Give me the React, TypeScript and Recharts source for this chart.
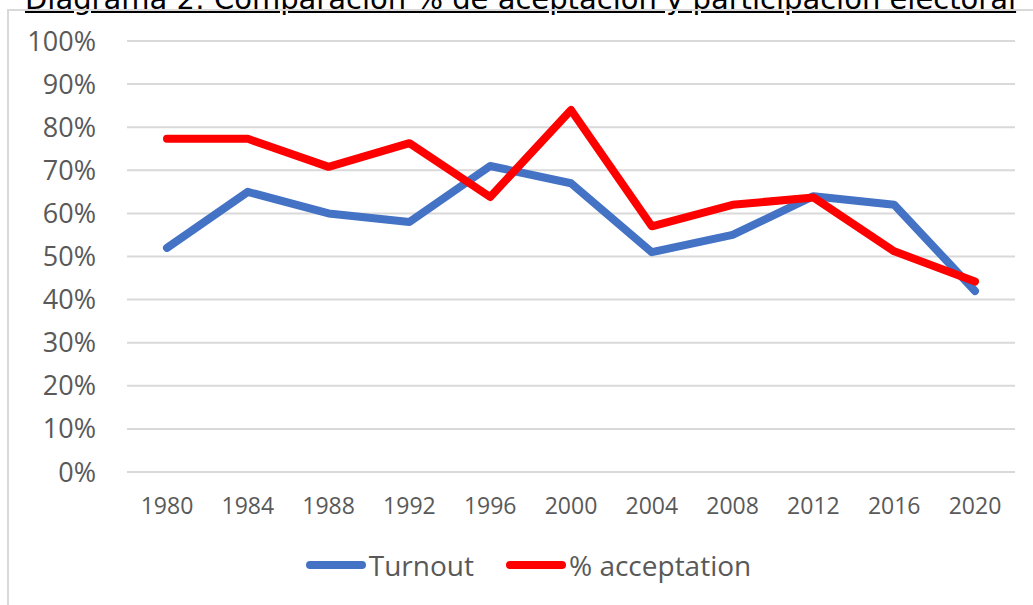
import { CartesianGrid, Legend, Line, LineChart, XAxis, YAxis } from 'recharts'

const years = ['1980', '1984', '1988', '1992', '1996', '2000', '2004', '2008', '2012', '2016', '2020']
const turnout = [52, 65, 60, 58, 71, 67, 51, 55, 64, 62, 42]
const acceptation = [77.3, 77.3, 70.8, 76.3, 63.8, 84, 57, 62, 63.7, 51.2, 44.2]
const yTicks = [0, 10, 20, 30, 40, 50, 60, 70, 80, 90, 100]
const legendOrder = ['Turnout', '% acceptation']

const TEXT = '#595959'
const GRID = '#d9d9d9'
const FONT = '"Open Sans", sans-serif'

const rows = years.map((year, i) => ({ year, turnout: turnout[i], acceptation: acceptation[i] }))

// legend drawn like Excel: thick rounded swatch with the label right after it
function LegendRow({ payload }: { payload?: { value: string; color: string }[] }) {
  const items = [...(payload ?? [])].sort((a, b) => legendOrder.indexOf(a.value) - legendOrder.indexOf(b.value))
  return (
    <div
      style={{
        display: 'flex',
        justifyContent: 'center',
        gap: 32,
        paddingLeft: 42,
        fontFamily: FONT,
        fontSize: 28,
        color: TEXT,
      }}
    >
      {items.map((p) => (
        <div key={p.value} style={{ display: 'flex', alignItems: 'center' }}>
          <span style={{ display: 'inline-block', width: 60, height: 8, borderRadius: 4, background: p.color, marginRight: 3 }} />
          <span>{p.value}</span>
        </div>
      ))}
    </div>
  )
}

export default function App() {
  return (
    <div style={{ position: 'absolute', left: 0, top: 0, width: 1033, height: 605, overflow: 'hidden', background: '#fff' }}>
      <div
        style={{
          position: 'absolute',
          left: 25,
          top: -15,
          lineHeight: '29px',
          fontFamily: '"DejaVu Sans", sans-serif',
          fontSize: 29,
          color: '#000',
          textDecoration: 'underline',
          whiteSpace: 'nowrap',
        }}
      >
        Diagrama 2: Comparación % de aceptación y participación electoral
      </div>
      <div
        style={{
          position: 'absolute',
          left: 7,
          top: 9,
          width: 1100,
          height: 700,
          borderTop: `2px solid ${GRID}`,
          borderLeft: `2px solid ${GRID}`,
        }}
      />
      <div style={{ position: 'absolute', left: 0, top: 0 }}>
        <LineChart width={1033} height={605} data={rows} margin={{ top: 41, right: 18, left: 0, bottom: 19 }}>
          <CartesianGrid stroke={GRID} strokeWidth={2} vertical={false} />
          <XAxis
            dataKey="year"
            axisLine={false}
            tickLine={false}
            tickSize={0}
            tickMargin={26}
            height={74}
            interval={0}
            padding={{ left: 40, right: 40 }}
            tick={{ fill: TEXT, fontSize: 23, fontFamily: FONT }}
          />
          <YAxis
            domain={[0, 100]}
            ticks={yTicks}
            width={127}
            axisLine={false}
            tickLine={false}
            tickSize={0}
            tickMargin={31}
            tickFormatter={(v: number) => `${v}%`}
            tick={{ fill: TEXT, fontSize: 27, fontFamily: FONT }}
          />
          <Legend verticalAlign="bottom" height={40} content={<LegendRow />} />
          <Line
            dataKey="turnout"
            name="Turnout"
            stroke="#4472C4"
            strokeWidth={8}
            strokeLinecap="round"
            strokeLinejoin="round"
            dot={false}
            isAnimationActive={false}
          />
          <Line
            dataKey="acceptation"
            name="% acceptation"
            stroke="#FF0000"
            strokeWidth={8}
            strokeLinecap="round"
            strokeLinejoin="round"
            dot={false}
            isAnimationActive={false}
          />
        </LineChart>
      </div>
    </div>
  )
}
